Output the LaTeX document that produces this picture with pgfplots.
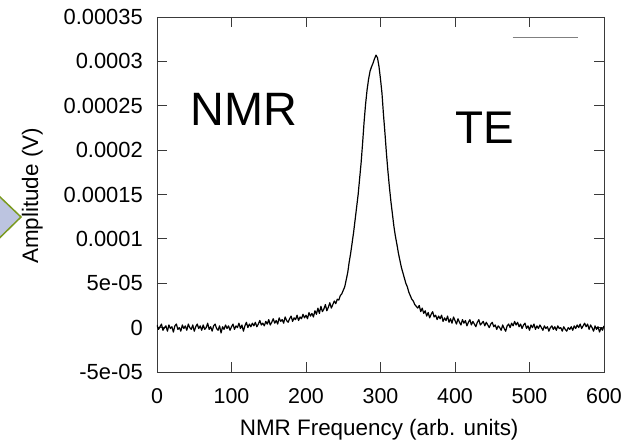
\documentclass[border=0pt]{standalone}
\usepackage{pgfplots}
\pgfplotsset{compat=1.18}
\usepackage{pgfplotstable}
\usepackage{fontspec}
\setmainfont{Liberation Sans}
\definecolor{framegray}{HTML}{3A3A3A}
\definecolor{shapefill}{HTML}{BCC4E0}
\definecolor{shapedraw}{HTML}{7B9A1F}
\pgfplotsset{longkey/.style={legend image code/.code={\draw[gray, line width=1.1bp] (0bp,0bp) -- (65bp,0bp);}}}

% amplitude in units of 1e-5 V
\pgfplotstableread{
x y
0 0.3
2 -0.2
4 0.1
6 0.4
8 -0.3
10 0.0
12 0.2
14 -0.4
16 0.3
18 -0.1
20 0.1
22 -0.5
24 0.2
26 0.4
28 -0.2
30 0.0
32 -0.4
34 0.3
36 -0.1
38 0.2
40 -0.3
42 0.4
44 0.0
46 -0.2
48 0.3
50 -0.4
52 0.1
54 0.4
56 -0.1
58 0.2
60 -0.3
62 0.3
64 -0.2
66 0.0
68 0.5
70 -0.2
72 0.1
74 -0.4
76 0.2
78 0.4
80 -0.1
82 -0.3
84 0.2
86 -0.6
88 0.1
90 -0.2
92 0.3
94 -0.1
96 0.2
98 -0.3
100 0.1
102 0.4
104 -0.2
106 0.2
108 0.0
110 0.5
112 -0.1
114 0.3
116 -0.4
118 0.2
120 0.6
122 0.0
124 0.4
126 0.1
128 0.5
130 0.2
132 0.6
134 0.1
136 0.4
138 0.8
140 0.3
142 0.5
144 0.2
146 0.7
148 0.4
150 0.9
152 0.3
154 0.6
156 1.0
158 0.5
160 0.8
162 0.4
164 1.1
166 0.7
168 0.9
170 0.5
172 1.2
174 0.8
176 0.6
178 1.0
180 1.3
182 0.7
184 1.1
186 0.9
188 1.4
190 0.8
192 1.2
194 1.0
196 1.5
198 1.1
200 1.4
202 1.0
204 1.7
206 1.3
208 1.6
210 1.2
212 1.9
214 1.5
216 2.2
218 1.6
220 2.4
222 1.8
224 2.1
226 2.6
228 1.9
230 2.3
232 2.8
234 2.2
236 2.6
238 3.0
240 2.7
242 3.2
244 3.1
246 3.6
248 3.8
250 4.2
252 4.6
254 5.4
256 6.2
258 7.4
260 8.4
262 9.6
264 10.8
266 12.2
268 13.6
270 15.0
272 16.8
274 18.6
276 20.8
278 23.2
280 25.2
282 26.8
284 28.0
286 28.9
288 29.4
290 29.8
292 30.3
294 30.7
296 30.4
298 29.4
300 28.0
302 26.4
304 24.0
306 21.9
308 19.6
310 17.6
312 15.8
314 14.2
316 12.8
318 11.4
320 10.3
322 9.4
324 8.4
326 7.6
328 6.8
330 6.2
332 5.6
334 5.0
336 4.6
338 4.0
340 3.6
342 3.2
344 3.0
346 2.6
348 2.4
350 2.2
352 2.5
354 1.8
356 2.2
358 1.6
360 1.9
362 1.3
364 1.7
366 1.1
368 1.5
370 1.8
372 1.2
374 1.4
376 0.9
378 1.3
380 1.0
382 1.4
384 0.7
386 1.1
388 0.8
390 1.3
392 0.6
394 1.0
396 0.5
398 1.2
400 0.8
402 0.4
404 1.0
406 0.6
408 0.3
410 0.9
412 0.5
414 0.8
416 0.2
418 0.6
420 0.9
422 0.3
424 0.7
426 0.4
428 0.1
430 0.6
432 0.9
434 0.3
436 0.5
438 0.7
440 0.2
442 0.6
444 0.3
446 0.0
448 0.4
450 0.6
452 0.1
454 0.3
456 -0.2
458 0.2
460 0.0
462 -0.3
464 0.3
466 -0.1
468 -0.4
470 0.2
472 0.4
474 0.0
476 0.5
478 0.2
480 0.7
482 0.3
484 0.6
486 0.1
488 0.4
490 -0.1
492 0.3
494 0.5
496 -0.1
498 0.2
500 -0.3
502 0.3
504 0.0
506 0.4
508 -0.2
510 0.2
512 -0.1
514 0.3
516 0.0
518 -0.3
520 0.2
522 -0.1
524 0.1
526 -0.4
528 0.0
530 0.2
532 -0.2
534 0.1
536 -0.3
538 0.2
540 -0.1
542 0.0
544 -0.4
546 0.1
548 -0.2
550 -0.4
552 0.0
554 -0.2
556 0.1
558 -0.3
560 0.2
562 -0.1
564 0.3
566 0.0
568 0.4
570 -0.1
572 0.2
574 0.5
576 0.1
578 0.4
580 -0.2
582 0.3
584 0.0
586 -0.4
588 0.2
590 -0.2
592 0.1
594 -0.5
596 0.0
598 -0.3
600 0.2
}\nmrdata

\begin{document}
\begin{tikzpicture}
\begin{axis}[
  scale only axis,
  width=447bp, height=355bp,
  xmin=0, xmax=600,
  ymin=-5e-5, ymax=3.5e-4,
  axis line style={framegray, line width=0.9bp},
  every tick/.style={framegray, line width=0.9bp},
  tick align=inside,
  major tick length=10bp,
  xtick={0,100,200,300,400,500,600},
  xticklabels={0,100,200,300,400,500,600},
  ytick={-5e-5,0,5e-5,1e-4,1.5e-4,2e-4,2.5e-4,3e-4,3.5e-4},
  yticklabels={-5e-05,0,5e-05,0.0001,0.00015,0.0002,0.00025,0.0003,0.00035},
  scaled y ticks=false,
  xticklabel style={font=\fontsize{21.5}{24}\selectfont, inner sep=0pt, anchor=north, yshift=-16bp},
  yticklabel style={font=\fontsize{22}{24}\selectfont, inner sep=0pt, anchor=east, xshift=-14bp},
  xlabel={NMR Frequency (arb. units)},
  ylabel={Amplitude (V)},
  xlabel style={font=\fontsize{22.5}{26}\selectfont, at={(axis description cs:0.497,-0.1775)}, anchor=base, inner sep=0pt},
  ylabel style={font=\fontsize{22.5}{26}\selectfont, at={(axis description cs:-0.266,0.496)}, anchor=base, inner sep=0pt},
  legend style={at={(axis description cs:0.794,0.941)}, anchor=west, draw=none, fill=none, inner sep=0pt, nodes={inner sep=0pt}},
]
\addplot[black, line width=1.2bp, line join=round, forget plot] table[x=x, y expr=\thisrow{y}*1e-5] {\nmrdata};
\addlegendimage{longkey}
\addlegendentry{}
\node[font=\fontsize{47}{50}\selectfont, anchor=base west, inner sep=0pt] at (axis cs:44.3,2.283e-4) {NMR};
\node[font=\fontsize{46}{50}\selectfont, anchor=base west, inner sep=0pt] at (axis cs:400,2.08e-4) {TE};
\end{axis}
\filldraw[fill=shapefill, draw=shapedraw, line width=1.5bp] (-180bp,197bp) -- (-136bp,155bp) -- (-180bp,112bp) -- cycle;
\pgfresetboundingbox
\path[use as bounding box] (-157bp,-73bp) rectangle (481bp,372bp);
\end{tikzpicture}
\end{document}
